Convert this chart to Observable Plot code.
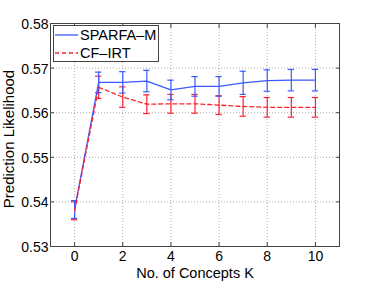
<!DOCTYPE html>
<html>
<head>
<meta charset="utf-8">
<script src="https://cdn.jsdelivr.net/npm/d3@7"></script>
<script src="https://cdn.jsdelivr.net/npm/@observablehq/plot@0.6"></script>
<style>
  body { margin: 0; background: #fff; }
  #wrap { position: relative; width: 374px; height: 281px; font-family: "Liberation Sans", Arial, sans-serif; }
  #legend { position: absolute; left: 53px; top: 25px; width: 106px; height: 37px; border: 1px solid #444; background: #fff; font-size: 14.5px; color: #000; box-sizing: border-box; }
  .row { position: absolute; left: 0; height: 16px; display: flex; align-items: center; white-space: nowrap; }
  .row svg { margin-left: 1px; margin-right: 2px; flex: none; }
</style>
</head>
<body>
<div id="wrap"></div>
<script>
const K = [0, 1, 2, 3, 4, 5, 6, 7, 8, 9, 10];
const sparfaMean = [0.5383, 0.5668, 0.5668, 0.5671, 0.5651, 0.5659, 0.5659, 0.5667, 0.5672, 0.5673, 0.5673];
const sparfaErr  = [0.0020, 0.0023, 0.0024, 0.0024, 0.0022, 0.0022, 0.0022, 0.0026, 0.0024, 0.0024, 0.0024];
const cfMean = [0.5380, 0.5657, 0.5635, 0.5619, 0.5620, 0.5620, 0.5617, 0.5614, 0.5612, 0.5612, 0.5612];
const cfErr  = [0.0020, 0.0025, 0.0023, 0.0021, 0.0021, 0.0021, 0.0021, 0.0022, 0.0022, 0.0022, 0.0022];
const xTicks = [0, 2, 4, 6, 8, 10];
const yTicks = [0.53, 0.54, 0.55, 0.56, 0.57, 0.58];
const seriesNames = ["SPARFA\u2013M", "CF\u2013IRT"];
const blue = "#3a5aff", red = "#ff2030";

const sp = K.map((k, i) => ({k, m: sparfaMean[i], e: sparfaErr[i]}));
const cf = K.map((k, i) => ({k, m: cfMean[i], e: cfErr[i]}));
const cap = 0.13;

function errMarks(data, color) {
  return [
    Plot.ruleX(data, {x: "k", y1: d => d.m - d.e, y2: d => d.m + d.e, stroke: color, strokeWidth: 1.2}),
    Plot.ruleY(data, {y: d => d.m - d.e, x1: d => d.k - cap, x2: d => d.k + cap, stroke: color, strokeWidth: 1.2}),
    Plot.ruleY(data, {y: d => d.m + d.e, x1: d => d.k - cap, x2: d => d.k + cap, stroke: color, strokeWidth: 1.2})
  ];
}

const chart = Plot.plot({
  width: 374,
  height: 281,
  marginLeft: 50,
  marginRight: 35,
  marginTop: 23,
  marginBottom: 35,
  style: {fontFamily: "Liberation Sans, Arial, sans-serif", fontSize: "14px", color: "#000", background: "#fff"},
  x: {domain: [-1, 11]},
  y: {domain: [0.53, 0.58]},
  marks: [
    Plot.gridX(xTicks, {stroke: "#999", strokeOpacity: 0.8, strokeDasharray: "1,2"}),
    Plot.gridY(yTicks, {stroke: "#999", strokeOpacity: 0.8, strokeDasharray: "1,2"}),
    Plot.axisX(xTicks, {tickSize: 0, tickPadding: 5, tickFormat: d => String(d), label: null}),
    Plot.axisX(xTicks, {anchor: "bottom", tickSize: -4, tickFormat: () => "", label: null, stroke: "#444"}),
    Plot.axisX(xTicks, {anchor: "top", tickSize: -4, tickFormat: () => "", label: null, stroke: "#444"}),
    Plot.axisY(yTicks, {tickSize: 0, tickPadding: 2, dy: 1, tickFormat: d => d.toFixed(2), label: null}),
    Plot.axisY(yTicks, {anchor: "left", tickSize: -4, tickFormat: () => "", label: null, stroke: "#444"}),
    Plot.axisY(yTicks, {anchor: "right", tickSize: -4, tickFormat: () => "", label: null, stroke: "#444"}),
    Plot.frame({stroke: "#444", strokeWidth: 1}),
    ...errMarks(cf, red),
    ...errMarks(sp, blue),
    Plot.line(sp, {x: "k", y: "m", stroke: blue, strokeWidth: 1.3}),
    Plot.line(cf, {x: "k", y: "m", stroke: red, strokeWidth: 1.3, strokeDasharray: "4,3"}),
    Plot.text(["No. of Concepts K"], {frameAnchor: "bottom", lineAnchor: "middle", dy: 27, fontSize: 14.5, fill: "#000"}),
    Plot.text(["Prediction Likelihood"], {frameAnchor: "left", textAnchor: "middle", lineAnchor: "middle", dx: -41, dy: 4, rotate: -90, fontSize: 15, fill: "#000"})
  ]
});

const wrap = document.getElementById("wrap");
wrap.appendChild(chart);

const legend = document.createElement("div");
legend.id = "legend";
const styles = [{c: blue, dash: null, top: 1}, {c: red, dash: "4,3", top: 19}];
seriesNames.forEach((name, i) => {
  const s = styles[i];
  const row = document.createElement("div");
  row.className = "row";
  row.style.top = s.top + "px";
  row.innerHTML = `<svg width="23" height="4"><line x1="0" y1="2" x2="23" y2="2" stroke="${s.c}" stroke-width="1.3" ${s.dash ? `stroke-dasharray="${s.dash}"` : ""}/></svg><span>${name}</span>`;
  legend.appendChild(row);
});
wrap.appendChild(legend);
</script>
</body>
</html>
